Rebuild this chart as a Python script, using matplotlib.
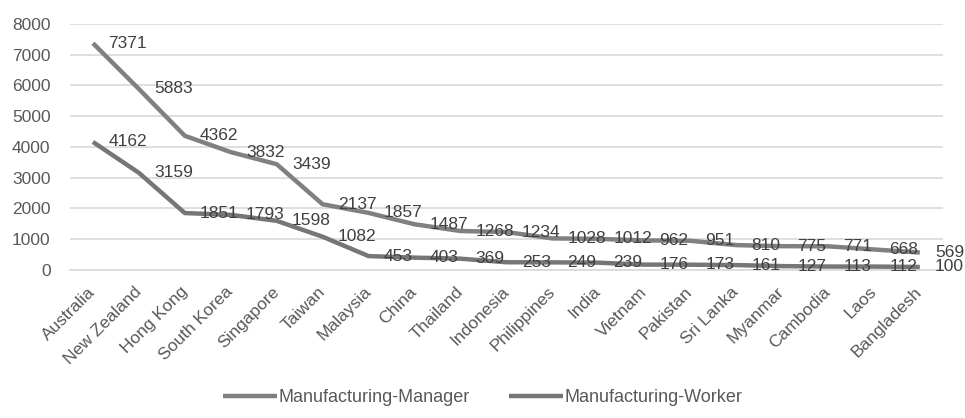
import matplotlib.pyplot as plt

countries = ['Australia', 'New Zealand', 'Hong Kong', 'South Korea', 'Singapore',
             'Taiwan', 'Malaysia', 'China', 'Thailand', 'Indonesia', 'Philippines',
             'India', 'Vietnam', 'Pakistan', 'Sri Lanka', 'Myanmar', 'Cambodia',
             'Laos', 'Bangladesh']
manager = [7371, 5883, 4362, 3832, 3439, 2137, 1857, 1487, 1268, 1234, 1028,
           1012, 962, 951, 810, 775, 771, 668, 569]
worker = [4162, 3159, 1851, 1793, 1598, 1082, 453, 403, 369, 253, 249,
          239, 176, 173, 161, 127, 113, 112, 100]
series_names = ['Manufacturing-Manager', 'Manufacturing-Worker']

plt.rcParams['font.family'] = ['Liberation Sans', 'DejaVu Sans']

fig = plt.figure(figsize=(9.65, 4.18), dpi=100)
ax = fig.add_axes([0.0725, 0.354, 0.9045, 0.589])

x = list(range(len(countries)))
ax.plot(x, manager, color='#808080', lw=3.2, label=series_names[0],
        solid_capstyle='butt', zorder=3)
ax.plot(x, worker, color='#767676', lw=3.2, label=series_names[1],
        solid_capstyle='butt', zorder=3)

# data labels to the right of each point
for xi, m, w in zip(x, manager, worker):
    ax.annotate(str(m), (xi, m), xytext=(11, 0), textcoords='offset points',
                ha='left', va='center', fontsize=12.5, color='#404040', zorder=4,
                annotation_clip=False)
    ax.annotate(str(w), (xi, w), xytext=(11, 0), textcoords='offset points',
                ha='left', va='center', fontsize=12.5, color='#404040', zorder=4,
                annotation_clip=False)

ax.set_xlim(-0.5, len(countries) - 0.5)
ax.set_ylim(0, 8000)
ax.set_yticks(range(0, 8001, 1000))
ax.yaxis.grid(True, color='#d9d9d9', lw=1.2)
ax.set_axisbelow(True)
for s in ['top', 'right', 'left']:
    ax.spines[s].set_visible(False)
ax.spines['bottom'].set_color('#d9d9d9')
ax.spines['bottom'].set_linewidth(1.2)

ax.set_xticks(x)
ax.set_xticklabels(countries, rotation=45, ha='right', va='center',
                   rotation_mode='anchor', fontsize=12.5, color='#595959')
ax.tick_params(axis='x', length=0, pad=14)
ax.tick_params(axis='y', length=0, pad=14, labelsize=12.5, labelcolor='#595959')

leg = fig.legend(loc='lower center', bbox_to_anchor=(0.5, -0.01), ncol=2,
                 frameon=False, fontsize=13, handlelength=3.0, handletextpad=0.05,
                 columnspacing=2.2)
for t in leg.get_texts():
    t.set_color('#595959')

fig.savefig('out.png', dpi=100)
